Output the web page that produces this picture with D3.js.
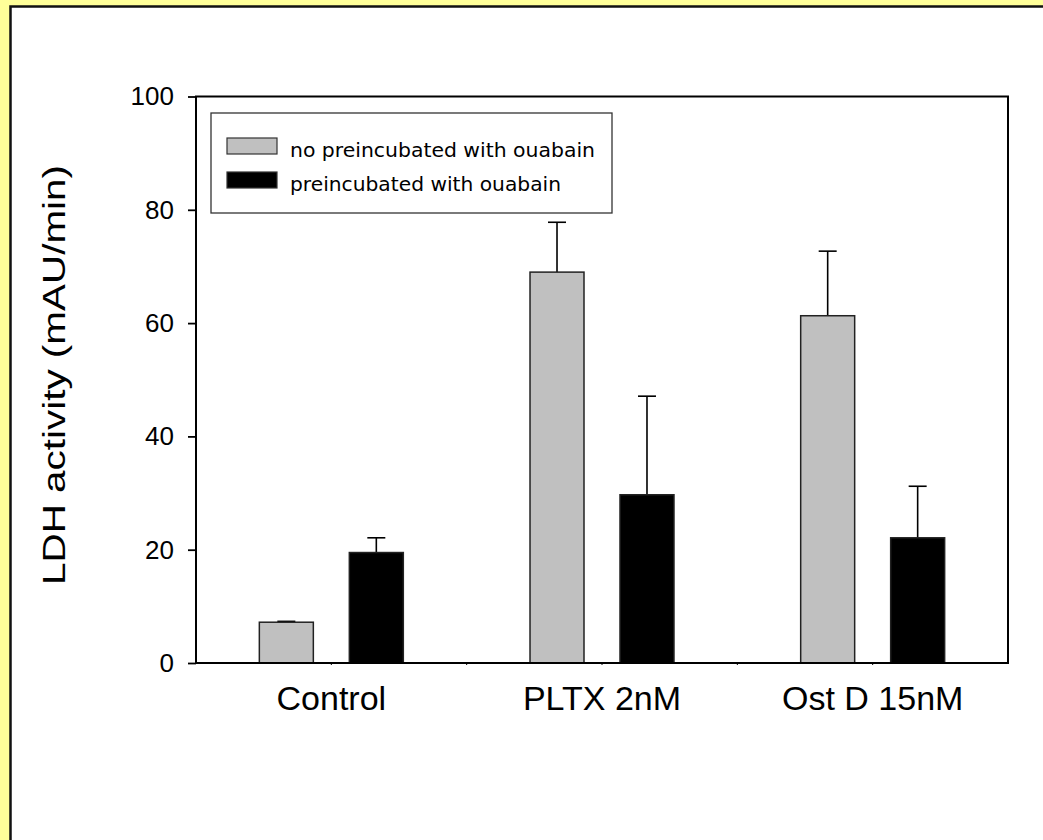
<!DOCTYPE html>
<html>
<head>
<meta charset="utf-8">
<script src="https://cdn.jsdelivr.net/npm/d3@7"></script>
<style>
  body { margin: 0; background: #ffff99; }
  svg { display: block; }
</style>
</head>
<body>
<svg id="chart" width="1043" height="840"></svg>
<script>
// data
const groups = ['Control', 'PLTX 2nM', 'Ost D 15nM']
const series = ['no preincubated with ouabain', 'preincubated with ouabain']
const noOuabain = [7.2, 69.0, 61.3]
const noOuabainErr = [0.15, 8.8, 11.4]
const withOuabain = [19.5, 29.7, 22.1]
const withOuabainErr = [2.6, 17.4, 9.1]
const yTicks = [0, 20, 40, 60, 80, 100]
const colors = ['#c0c0c0', '#000000']

const svg = d3.select('#chart')

// yellow page with white panel
svg.append('rect')
  .attr('x', 0).attr('y', 0).attr('width', 1043).attr('height', 840)
  .attr('fill', '#ffff99')
svg.append('rect')
  .attr('x', 10.5).attr('y', 6.5).attr('width', 1100).attr('height', 900)
  .attr('fill', '#fff').attr('stroke', '#111').attr('stroke-width', 2.5)

const m = { left: 196, top: 96.5, right: 1008, bottom: 663 }

const x = d3.scaleBand().domain(groups).range([m.left, m.right]).padding(0)
const xi = d3.scaleBand().domain([0, 1]).range([0, x.bandwidth()])
  .paddingInner(0.4).paddingOuter(0.704)
const y = d3.scaleLinear().domain([0, 100]).range([m.bottom, m.top])

const rows = groups.map((g, i) => ({
  g,
  vals: [
    { s: 0, v: noOuabain[i], e: noOuabainErr[i] },
    { s: 1, v: withOuabain[i], e: withOuabainErr[i] }
  ]
}))

// error bars (up only)
const gg = svg.append('g').selectAll('g').data(rows).join('g')
  .attr('transform', d => `translate(${x(d.g)},0)`)

gg.selectAll('line.err').data(d => d.vals).join('line')
  .attr('class', 'err')
  .attr('x1', d => xi(d.s) + xi.bandwidth() / 2)
  .attr('x2', d => xi(d.s) + xi.bandwidth() / 2)
  .attr('y1', d => y(d.v)).attr('y2', d => y(d.v + d.e))
  .attr('stroke', '#000').attr('stroke-width', 1.6)
gg.selectAll('line.cap').data(d => d.vals).join('line')
  .attr('class', 'cap')
  .attr('x1', d => xi(d.s) + xi.bandwidth() / 2 - 9)
  .attr('x2', d => xi(d.s) + xi.bandwidth() / 2 + 9)
  .attr('y1', d => y(d.v + d.e)).attr('y2', d => y(d.v + d.e))
  .attr('stroke', '#000').attr('stroke-width', 1.6)

gg.selectAll('rect').data(d => d.vals).join('rect')
  .attr('x', d => xi(d.s))
  .attr('width', xi.bandwidth())
  .attr('y', d => y(d.v))
  .attr('height', d => y(0) - y(d.v))
  .attr('fill', d => colors[d.s])
  .attr('stroke', '#222').attr('stroke-width', 1.5)

// frame
svg.append('rect')
  .attr('x', m.left).attr('y', m.top)
  .attr('width', m.right - m.left).attr('height', m.bottom - m.top)
  .attr('fill', 'none').attr('stroke', '#000').attr('stroke-width', 2)

// y axis
const yAxis = svg.append('g')
  .attr('transform', `translate(${m.left},0)`)
  .call(d3.axisLeft(y).tickValues(yTicks).tickSize(8).tickPadding(14))
yAxis.select('.domain').remove()
yAxis.selectAll('line').attr('stroke', '#000').attr('stroke-width', 1.8)
yAxis.selectAll('text')
  .attr('font-family', 'Liberation Sans, Arial, sans-serif')
  .attr('font-size', 26).attr('fill', '#000')

// x axis: tiny ticks at centres and boundaries, big labels
const xTickPos = groups.map(g => x(g) + x.bandwidth() / 2)
  .concat(groups.slice(1).map(g => x(g)))
svg.append('g').selectAll('line').data(xTickPos).join('line')
  .attr('x1', d => d).attr('x2', d => d)
  .attr('y1', m.bottom).attr('y2', m.bottom + 2)
  .attr('stroke', '#000').attr('stroke-width', 1)

svg.append('g').selectAll('text').data(groups).join('text')
  .attr('x', d => x(d) + x.bandwidth() / 2)
  .attr('y', 710)
  .attr('text-anchor', 'middle')
  .attr('font-family', 'Liberation Sans, Arial, sans-serif')
  .attr('font-size', 34)
  .text(d => d)

svg.append('text')
  .attr('transform', 'translate(65,375) rotate(-90)')
  .attr('text-anchor', 'middle')
  .attr('font-family', 'Liberation Sans, Arial, sans-serif')
  .attr('font-size', 31)
  .attr('textLength', 420).attr('lengthAdjust', 'spacingAndGlyphs')
  .text('LDH activity (mAU/min)')

// legend
const lg = svg.append('g')
lg.append('rect')
  .attr('x', 211).attr('y', 113).attr('width', 401).attr('height', 100)
  .attr('fill', '#fff').attr('stroke', '#333').attr('stroke-width', 1.3)
const lgW = [305, 271]
lg.selectAll('rect.sw').data(series).join('rect')
  .attr('class', 'sw')
  .attr('x', 227).attr('y', (d, i) => 138 + i * 34)
  .attr('width', 50).attr('height', 16)
  .attr('fill', (d, i) => colors[i]).attr('stroke', '#333').attr('stroke-width', 1.2)
lg.selectAll('text').data(series).join('text')
  .attr('x', 290).attr('y', (d, i) => 157 + i * 34)
  .attr('font-family', 'DejaVu Sans, sans-serif')
  .attr('font-size', 19)
  .attr('textLength', (d, i) => lgW[i]).attr('lengthAdjust', 'spacingAndGlyphs')
  .text(d => d)
</script>
</body>
</html>
